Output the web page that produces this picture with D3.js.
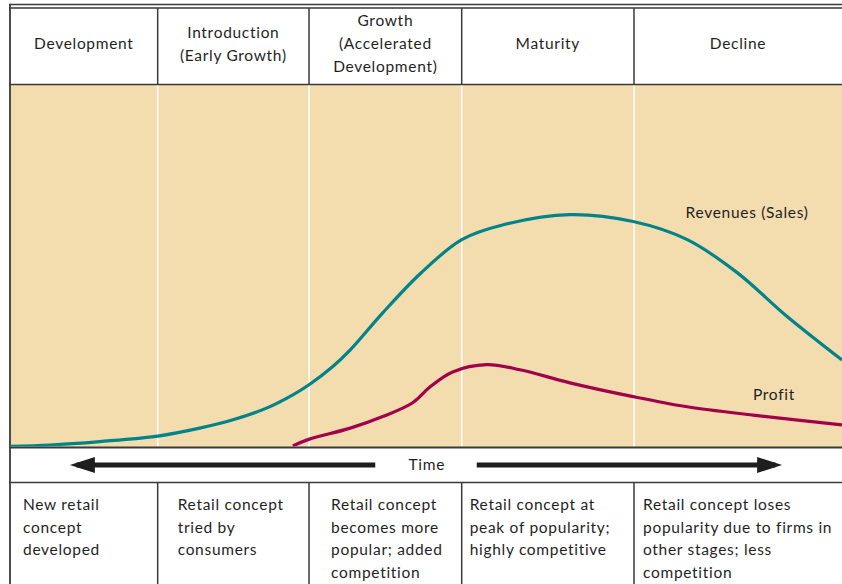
<!DOCTYPE html>
<html>
<head>
<meta charset="utf-8">
<script src="https://cdn.jsdelivr.net/npm/d3@7"></script>
<style>
  html, body { margin: 0; padding: 0; background: #fff; }
  svg { display: block; }
  text { font-family: Lato, "Open Sans", sans-serif; fill: #1f1f1f; letter-spacing: 0.7px; }
</style>
</head>
<body>
<svg id="chart" width="842" height="584"></svg>
<script>
// ---- Data ----
const stageNames = [
  ["Development"],
  ["Introduction", "(Early Growth)"],
  ["Growth", "(Accelerated", "Development)"],
  ["Maturity"],
  ["Decline"]
];
const stageBreaks = [0, 17.75, 35.94, 54.29, 75.0, 100];
const stageDescriptions = [
  ["New retail", "concept", "developed"],
  ["Retail concept", "tried by", "consumers"],
  ["Retail concept", "becomes more", "popular; added", "competition"],
  ["Retail concept at", "peak of popularity;", "highly competitive"],
  ["Retail concept loses", "popularity due to firms in", "other stages; less", "competition"]
];
const revenueTime  = [0, 4.8, 10.8, 17.75, 22.8, 26.8, 30.9, 34.0, 35.9, 38.8, 40.9, 44.8, 49.3, 54.3, 59.3, 67.3, 74.9, 81.4, 87.4, 93.4, 100];
const revenueValue = [0.2, 0.55, 1.5, 3.0, 5.2, 7.5, 10.8, 14.4, 17.1, 22.2, 26.8, 37.0, 47.8, 57.2, 61.3, 64.1, 62.2, 57.2, 48.1, 36.0, 24.0];
const profitTime   = [34.0, 35.9, 40.9, 44.8, 48.4, 50.5, 53.2, 57.3, 61.3, 67.3, 74.9, 81.4, 89.3, 100];
const profitValue  = [0.3, 2.1, 5.2, 8.4, 12.2, 16.6, 20.7, 22.7, 21.3, 17.7, 13.9, 11.1, 8.8, 6.1];
const seriesLabels = ["Revenues (Sales)", "Profit"];
const axisLabel = "Time";

// ---- Layout ----
const svg = d3.select("#chart");
const L = 10, R = 842;
const headerTop = 8, headerBottom = 84.5;
const plotTop = 84.5, plotBottom = 447.5;
const timeBottom = 482.5, H = 584;
const descOffsets = [13, 20, 22, 8, 9];

const x = d3.scaleLinear().domain([0, 100]).range([L, R]);
const y = d3.scaleLinear().domain([0, 100]).range([plotBottom - 0.5, plotTop]);

const tan = "#f3dcae", teal = "#00848a", crimson = "#a3004c", line = "#3a3a3a";

svg.append("rect").attr("x", L).attr("y", plotTop).attr("width", R - L).attr("height", plotBottom - plotTop).attr("fill", tan);

svg.selectAll(".pdiv").data(stageBreaks.slice(1, -1)).join("line")
  .attr("x1", d => x(d)).attr("x2", d => x(d))
  .attr("y1", plotTop).attr("y2", plotBottom)
  .attr("stroke", "#fff").attr("stroke-width", 1.6);

svg.selectAll(".hdiv").data(stageBreaks.slice(1, -1)).join("line")
  .attr("x1", d => x(d)).attr("x2", d => x(d))
  .attr("y1", headerTop).attr("y2", headerBottom)
  .attr("stroke", line).attr("stroke-width", 1.5);
svg.selectAll(".ddiv").data(stageBreaks.slice(1, -1)).join("line")
  .attr("x1", d => x(d)).attr("x2", d => x(d))
  .attr("y1", timeBottom).attr("y2", H)
  .attr("stroke", line).attr("stroke-width", 1.5);

[[4.5, 1.6], [8, 1.6], [headerBottom, 1.5], [plotBottom, 2], [timeBottom, 1.5]].forEach(([yy, w]) => {
  svg.append("line").attr("x1", L - 1).attr("x2", R).attr("y1", yy).attr("y2", yy)
    .attr("stroke", line).attr("stroke-width", w);
});
svg.append("line").attr("x1", L).attr("x2", L).attr("y1", 4).attr("y2", H)
  .attr("stroke", line).attr("stroke-width", 1.8);

const fs = 15.5, lh = 23;
stageNames.forEach((lines, i) => {
  const cx = (x(stageBreaks[i]) + x(stageBreaks[i + 1])) / 2;
  const cy = 44;
  const t = svg.append("text").attr("text-anchor", "middle").attr("font-size", fs);
  lines.forEach((s, j) => {
    t.append("tspan").attr("x", cx).attr("y", cy + (j - (lines.length - 1) / 2) * lh)
      .attr("dy", "0.35em").text(s);
  });
});

const lineGen = d3.line().x(d => x(d[0])).y(d => y(d[1])).curve(d3.curveCatmullRom.alpha(0.5));
svg.append("clipPath").attr("id", "clip").append("rect")
  .attr("x", L).attr("y", plotTop).attr("width", R - L).attr("height", plotBottom - plotTop - 1);
const g = svg.append("g").attr("clip-path", "url(#clip)");
g.append("path").datum(d3.zip(revenueTime, revenueValue)).attr("d", lineGen)
  .attr("fill", "none").attr("stroke", teal).attr("stroke-width", 3.2);
g.append("path").datum(d3.zip(profitTime, profitValue)).attr("d", lineGen)
  .attr("fill", "none").attr("stroke", crimson).attr("stroke-width", 3.2);

svg.append("text").attr("x", x(81.2)).attr("y", y(64.6)).attr("dy", "0.35em")
  .attr("font-size", fs).text(seriesLabels[0]);
svg.append("text").attr("x", x(89.3)).attr("y", y(14.5)).attr("dy", "0.35em")
  .attr("font-size", fs).text(seriesLabels[1]);

const arrowY = (plotBottom + timeBottom) / 2;
const aw = 5;
svg.append("line").attr("x1", x(8)).attr("x2", x(43.9)).attr("y1", arrowY).attr("y2", arrowY)
  .attr("stroke", "#1e1e1e").attr("stroke-width", aw);
svg.append("path").attr("d", `M${x(7.2)},${arrowY} L${x(10.2)},${arrowY - 8} L${x(10.2)},${arrowY + 8} Z`).attr("fill", "#1e1e1e");
svg.append("line").attr("x1", x(56.1)).attr("x2", x(92)).attr("y1", arrowY).attr("y2", arrowY)
  .attr("stroke", "#1e1e1e").attr("stroke-width", aw);
svg.append("path").attr("d", `M${x(92.8)},${arrowY} L${x(89.8)},${arrowY - 8} L${x(89.8)},${arrowY + 8} Z`).attr("fill", "#1e1e1e");
svg.append("text").attr("x", x(50.1)).attr("y", arrowY).attr("dy", "0.35em")
  .attr("text-anchor", "middle").attr("font-size", fs).text(axisLabel);

stageDescriptions.forEach((lines, i) => {
  const t = svg.append("text").attr("font-size", fs);
  lines.forEach((s, j) => {
    t.append("tspan").attr("x", x(stageBreaks[i]) + descOffsets[i]).attr("y", 505 + j * 22.4)
      .attr("dy", "0.35em").text(s);
  });
});
</script>
</body>
</html>
